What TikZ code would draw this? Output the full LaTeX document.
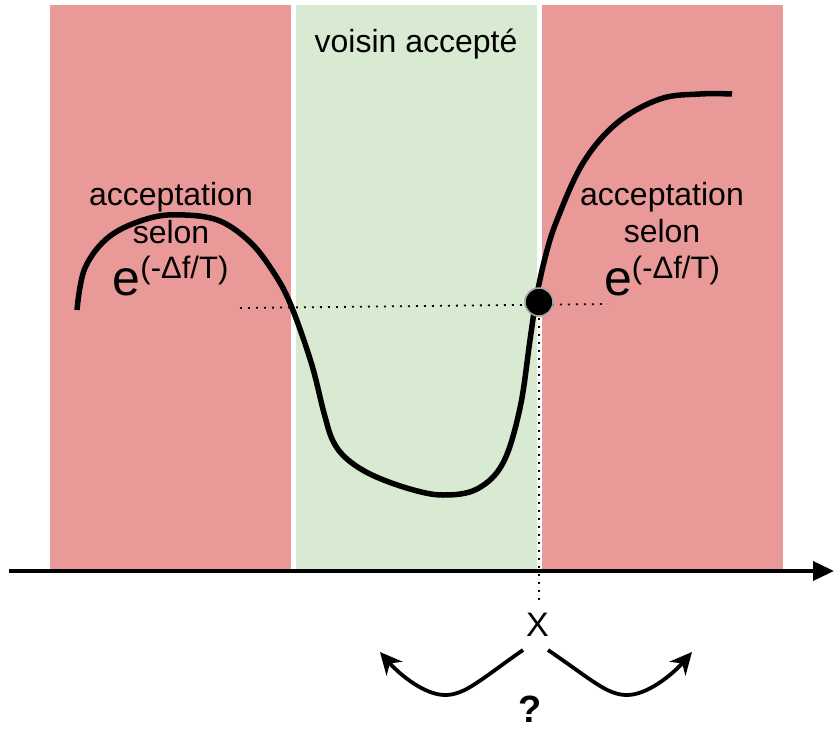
\documentclass[tikz,border=0pt]{standalone}
\usepackage{fontspec}
\setmainfont{Liberation Sans}
\usetikzlibrary{arrows.meta}
\definecolor{zonered}{HTML}{EA9999}
\definecolor{zonegreen}{HTML}{D9EAD3}
\begin{document}
\begin{tikzpicture}[x=1pt,y=-1pt,
  lbl/.style={font=\fontsize{32}{38}\selectfont, inner sep=0pt, anchor=base},
  expr/.style={inner sep=0pt, anchor=base},
  dots/.style={line width=1.8pt, dash pattern=on 1.8pt off 6.2pt},
  fcurve/.style={line width=5.5pt, line join=round},
  bendarrow/.style={line width=3.8pt, -{Stealth[length=22pt,width=21pt,inset=7pt]}},
  axisline/.style={line width=3.8pt, -{Triangle[length=21pt,width=19pt]}}]
\useasboundingbox (0,0) rectangle (834,730);
% zones
\fill[zonered] (50,5) rectangle (291,569);
\fill[zonegreen] (296,5) rectangle (537,569);
\fill[zonered] (542,5) rectangle (783,569);
% dotted guides
\node[circle, fill=black, draw=gray!70, line width=1.5pt, minimum size=28pt, inner sep=0pt] (pt) at (539,302) {};
\coordinate (hL) at (240,308);
\coordinate (hR) at (608,304);
\coordinate (xfoot) at (539,602);
\draw[dots] (hL) -- (hR);
\draw[dots] (pt.center) -- (xfoot);
% function curve
\draw[fcurve] plot[smooth, tension=0.6] coordinates {
 (77,310) (85,268) (110,236) (150,218) (185,215) (220,221) (250,242) (272,270) (290,303)
 (311,362) (324,413) (333,441) (347,459) (372,475) (410,489) (443,495) (477,489) (503,463)
 (520,408) (530,340) (536,300) (545,258) (557,220) (583,163) (617,123) (660,99) (700,94) (732,94)};
% dot on top
\node[circle, fill=black, draw=gray!70, line width=1.5pt, minimum size=28pt, inner sep=0pt] (pt2) at (pt.center) {};
% axis
\coordinate (axL) at (9,571);
\coordinate (axR) at (834,571);
\draw[axisline] (axL) -- (axR);
% labels
\node[lbl] (voisin) at (416,53) {voisin accepté};
\node[lbl] (accL) at (171,205) {acceptation};
\node[lbl] (selL) at (171,243) {selon};
\node[expr] (expL) at (170.5,295) {\fontsize{50}{50}\selectfont e\raisebox{17pt}{\fontsize{31}{31}\selectfont (-Δf/T)}};
\node[lbl] (accR) at (662,205) {acceptation};
\node[lbl] (selR) at (662,242) {selon};
\node[expr] (expR) at (662,295) {\fontsize{50}{50}\selectfont e\raisebox{17pt}{\fontsize{31}{31}\selectfont (-Δf/T)}};
\node[inner sep=0pt, font=\fontsize{34}{34}\selectfont] (X) at (537.5,624.5) {X};
\node[inner sep=0pt, anchor=base, font=\bfseries\fontsize{38}{38}\selectfont] (q) at (530.5,722) {?};
% neighbour arrows
\coordinate (lA) at (523,650);
\coordinate (lB) at (380,652);
\coordinate (rA) at (548,650);
\coordinate (rB) at (692,652);
\draw[bendarrow] (lA) .. controls (480,680) and (465,695) .. (445,695) .. controls (425,695) and (400,675) .. (lB);
\draw[bendarrow] (rA) .. controls (592,680) and (607,695) .. (627,695) .. controls (647,695) and (672,675) .. (rB);
\end{tikzpicture}
\end{document}
